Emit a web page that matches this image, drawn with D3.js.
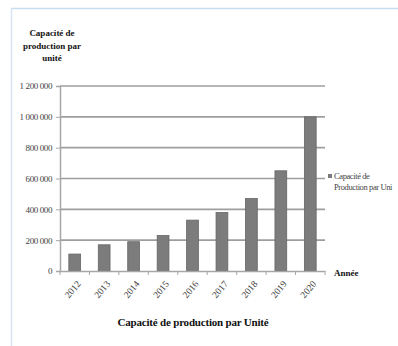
<!DOCTYPE html>
<head>
<meta charset="utf-8">
<style>
  body { margin: 0; padding: 0; background: #fff; }
  svg text { font-family: 'Liberation Serif', 'DejaVu Serif', serif; }
</style>
</head>
<body>
<div id="vis"></div>
<script src="https://cdn.jsdelivr.net/npm/d3@7"></script>
<script>
  // data
  var years = ['2012','2013','2014','2015','2016','2017','2018','2019','2020'];
  var capacity = [110000, 170000, 190000, 230000, 330000, 380000, 470000, 650000, 1000000];
  var yTicks = [0, 200000, 400000, 600000, 800000, 1000000, 1200000];

  var serif = "'Liberation Serif', 'DejaVu Serif', serif";
  var width = 398, height = 346,
      plotLeft = 60, plotRight = 325, plotTop = 86, plotBottom = 271;

  var svg = d3.select('#vis').append('svg')
      .attr('width', width)
      .attr('height', height);

  // light blue frame (only top and left edges show)
  svg.append('line').attr('x1', 11).attr('x2', width).attr('y1', 8.5).attr('y2', 8.5)
      .attr('stroke', '#c9ddf2').attr('stroke-width', 1.5);
  svg.append('line').attr('x1', 11.5).attr('x2', 11.5).attr('y1', 8).attr('y2', height)
      .attr('stroke', '#d6e4f3').attr('stroke-width', 1.5);

  var x = d3.scaleBand().domain(years).range([plotLeft, plotRight]).paddingInner(0.6).paddingOuter(0.3);
  var xb = d3.scaleBand().domain(years).range([plotLeft, plotRight]);
  var y = d3.scaleLinear().domain([0, 1200000]).range([plotBottom, plotTop]);

  var fmt = function(v) { return d3.format(',')(v).replace(/,/g, ' '); };

  // gridlines
  svg.append('g')
    .selectAll('line')
    .data(yTicks.slice(1))
    .enter().append('line')
      .attr('x1', plotLeft).attr('x2', plotRight)
      .attr('y1', function(d) { return y(d); })
      .attr('y2', function(d) { return y(d); })
      .attr('stroke', '#9e9e9e').attr('stroke-width', 1.6);

  // y axis
  var yAxis = svg.append('g')
      .attr('transform', 'translate(' + plotLeft + ',0)')
      .call(d3.axisLeft(y).tickValues(yTicks).tickFormat(fmt).tickSize(4).tickPadding(4));
  yAxis.select('.domain').attr('stroke', '#a6a6a6').attr('stroke-width', 1.5);
  yAxis.selectAll('.tick line').attr('stroke', '#a6a6a6');
  yAxis.selectAll('text').attr('fill', '#444').attr('font-family', serif)
      .style('font-size', '9px').style('letter-spacing', '-0.4px');

  // bars
  svg.append('g')
    .selectAll('rect')
    .data(capacity)
    .enter().append('rect')
      .attr('x', function(d, i) { return x(years[i]); })
      .attr('y', function(d) { return y(d); })
      .attr('width', x.bandwidth())
      .attr('height', function(d) { return plotBottom - y(d); })
      .attr('fill', '#7c7c7c')
      .attr('stroke', '#666')
      .attr('stroke-width', 0.8);

  // x axis
  var xAxis = svg.append('g')
      .attr('transform', 'translate(0,' + plotBottom + ')')
      .call(d3.axisBottom(xb).tickSize(0).tickPadding(0));
  xAxis.select('.domain').attr('stroke', '#a6a6a6').attr('stroke-width', 1.5);
  // ticks between categories
  xAxis.selectAll('.sep')
    .data(years.concat(['end']))
    .enter().append('line')
      .attr('class', 'sep')
      .attr('x1', function(d, i) { return plotLeft + i * xb.bandwidth(); })
      .attr('x2', function(d, i) { return plotLeft + i * xb.bandwidth(); })
      .attr('y1', 0).attr('y2', 4)
      .attr('stroke', '#a6a6a6');
  xAxis.selectAll('.tick text')
      .attr('fill', '#444')
      .attr('font-family', serif)
      .style('font-size', '9.5px')
      .attr('text-anchor', 'end')
      .attr('transform', 'translate(4,11) rotate(-50)')
      .attr('dy', '0.35em');

  // axis titles
  var yTitle = ['Capacité de', 'production par', 'unité'];
  svg.append('g').selectAll('text')
    .data(yTitle)
    .enter().append('text')
      .attr('x', 52)
      .attr('y', function(d, i) { return 36 + i * 12.5; })
      .attr('text-anchor', 'middle')
      .attr('font-family', serif)
      .style('font-size', '9px')
      .style('font-weight', 'bold')
      .attr('fill', '#111')
      .text(function(d) { return d; });

  svg.append('text')
      .attr('x', 334).attr('y', 276)
      .attr('font-family', serif)
      .style('font-size', '9px').style('font-weight', 'bold')
      .attr('fill', '#111')
      .text('Année');

  svg.append('text')
      .attr('x', 193).attr('y', 326)
      .attr('text-anchor', 'middle')
      .attr('font-family', serif)
      .style('font-size', '11px').style('font-weight', 'bold')
      .style('letter-spacing', '-0.2px')
      .attr('fill', '#111')
      .text('Capacité de production par Unité');

  // legend
  svg.append('rect')
      .attr('x', 328).attr('y', 174).attr('width', 4).attr('height', 4)
      .attr('fill', '#7c7c7c');
  svg.append('g').selectAll('text')
    .data(['Capacité de', 'Production par Uni'])
    .enter().append('text')
      .attr('x', 334)
      .attr('y', function(d, i) { return 179 + i * 11; })
      .attr('font-family', serif)
      .style('font-size', '8.5px')
      .style('letter-spacing', '-0.4px')
      .attr('fill', '#444')
      .text(function(d) { return d; });
</script>
</body>
